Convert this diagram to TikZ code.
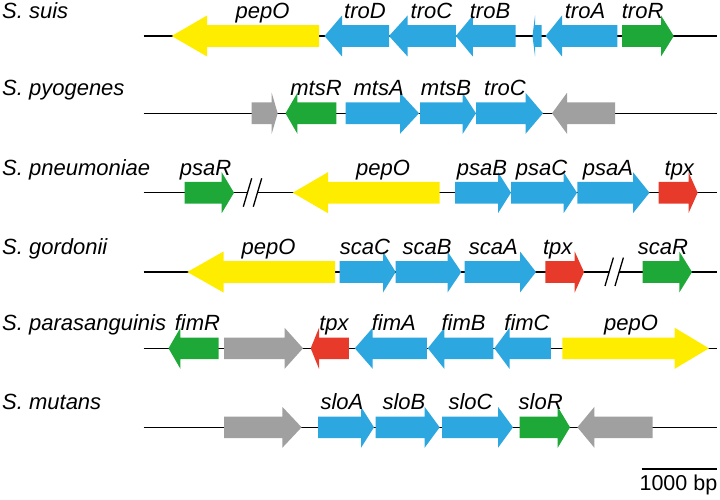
\documentclass[tikz,border=0pt]{standalone}
\usepackage{fontspec}
\setmainfont{Liberation Sans}
\definecolor{gyellow}{RGB}{255,237,0}
\definecolor{gblue}{RGB}{45,167,224}
\definecolor{ggreen}{RGB}{30,168,56}
\definecolor{gred}{RGB}{232,58,42}
\definecolor{ggrey}{RGB}{160,160,160}
% tail, head base, tip, y, colour
\newcommand\genearrow[5]{%
  \fill[#5] (#1,#4-10.8) -- (#2,#4-10.8) -- (#2,#4-20.5) -- (#3,#4) -- (#2,#4+20.5) -- (#2,#4+10.8) -- (#1,#4+10.8) -- cycle;}
% break mark: x of first slash bottom, y of line
\newcommand\breakmark[2]{%
  \fill[white] (#1,#2+14) -- (#1+10,#2+14) -- (#1+18.4,#2-14.4) -- (#1+8.4,#2-14.4) -- cycle;
  \draw[slash] (#1,#2+14) -- (#1+8.4,#2-14.4);
  \draw[slash] (#1+10,#2+14) -- (#1+18.4,#2-14.4);}
\tikzset{
  backbone/.style={line width=1.4pt, black},
  slash/.style={line width=1.3pt, black},
  lab/.style={anchor=base, inner sep=0pt, font=\fontsize{22}{26}\selectfont\itshape},
  species/.style={anchor=base west, inner sep=0pt, font=\fontsize{22}{26}\selectfont\itshape},
}
\begin{document}
\begin{tikzpicture}[x=1pt, y=-1pt]
\useasboundingbox (0,0) rectangle (720,500);

% ---------- Row 1: S. suis ----------
\draw[backbone] (143.7,36) -- (717,36);
\node[species] (sp1) at (2,18.5) {S. suis};
\genearrow{319}{207}{171.7}{36}{gyellow}
\genearrow{389}{342}{324.5}{36}{gblue}
\genearrow{455.8}{407.6}{389}{36}{gblue}
\genearrow{515.5}{472.8}{455.8}{36}{gblue}
\genearrow{541.6}{535}{532.5}{36}{gblue}
\genearrow{617.4}{562}{545.5}{36}{gblue}
\genearrow{622}{661}{673.8}{36}{ggreen}
\node[lab] (r1pepO) at (262.5,18.5) {pepO};
\node[lab] (r1troD) at (365,18.5) {troD};
\node[lab] (r1troC) at (431.5,18.5) {troC};
\node[lab] (r1troB) at (490,18.5) {troB};
\node[lab] (r1troA) at (585,18.5) {troA};
\node[lab] (r1troR) at (642.6,18.5) {troR};

% ---------- Row 2: S. pyogenes ----------
\draw[backbone] (143.7,113.3) -- (717,113.3);
\node[species] (sp2) at (2,95.8) {S. pyogenes};
\genearrow{251.5}{271.7}{277.7}{113.3}{ggrey}
\genearrow{336.4}{297.4}{285.5}{113.3}{ggreen}
\genearrow{345.6}{400}{419}{113.3}{gblue}
\genearrow{420}{462.7}{476}{113.3}{gblue}
\genearrow{476}{525.6}{543}{113.3}{gblue}
\genearrow{615}{567}{552}{113.3}{ggrey}
\node[lab] (r2mtsR) at (316,95.8) {mtsR};
\node[lab] (r2mtsA) at (378.7,95.8) {mtsA};
\node[lab] (r2mtsB) at (446,95.8) {mtsB};
\node[lab] (r2troC) at (505,95.8) {troC};

% ---------- Row 3: S. pneumoniae ----------
\draw[backbone] (143.7,192.7) -- (717,192.7);
\node[species] (sp3) at (2,175.2) {S. pneumoniae};
\genearrow{184.5}{221.7}{234}{192.7}{ggreen}
\breakmark{243.3}{192.7}
\genearrow{439.7}{328}{292.8}{192.7}{gyellow}
\genearrow{455}{498}{511}{192.7}{gblue}
\genearrow{511}{563.6}{577}{192.7}{gblue}
\genearrow{577.4}{633}{649.5}{192.7}{gblue}
\genearrow{658.7}{688.5}{697.7}{192.7}{gred}
\node[lab] (r3psaR) at (205.6,175.2) {psaR};
\node[lab] (r3pepO) at (383,175.2) {pepO};
\node[lab] (r3psaB) at (482,175.2) {psaB};
\node[lab] (r3psaC) at (541.6,175.2) {psaC};
\node[lab] (r3psaA) at (608,175.2) {psaA};
\node[lab] (r3tpx) at (679.3,175.2) {tpx};

% ---------- Row 4: S. gordonii ----------
\draw[backbone] (143.7,272) -- (717,272);
\node[species] (sp4) at (2,254.5) {S. gordonii};
\genearrow{335}{223.5}{187.3}{272}{gyellow}
\genearrow{339.7}{383}{395.7}{272}{gblue}
\genearrow{395.7}{447.5}{461.3}{272}{gblue}
\genearrow{464.5}{520}{536}{272}{gblue}
\genearrow{545.3}{574.7}{584}{272}{gred}
\breakmark{605}{272}
\genearrow{642.6}{679.3}{692}{272}{ggreen}
\node[lab] (r4pepO) at (268.5,254.5) {pepO};
\node[lab] (r4scaC) at (365,254.5) {scaC};
\node[lab] (r4scaB) at (427,254.5) {scaB};
\node[lab] (r4scaA) at (493.4,254.5) {scaA};
\node[lab] (r4tpx) at (557.7,254.5) {tpx};
\node[lab] (r4scaR) at (663,254.5) {scaR};

% ---------- Row 5: S. parasanguinis ----------
\draw[backbone] (143.7,348.3) -- (717,348.3);
\node[species] (sp5) at (2,330.8) {S. parasanguinis};
\genearrow{218.5}{180.4}{168.5}{348.3}{ggreen}
\genearrow{224}{284.6}{303}{348.3}{ggrey}
\genearrow{348.8}{319}{310.7}{348.3}{gred}
\genearrow{426.9}{372.7}{354.8}{348.3}{gblue}
\genearrow{493.4}{444.3}{427.8}{348.3}{gblue}
\genearrow{550.8}{509.5}{494.3}{348.3}{gblue}
\genearrow{562.3}{674.7}{709}{348.3}{gyellow}
\node[lab] (r5fimR) at (197.4,330.8) {fimR};
\node[lab] (r5tpx) at (334,330.8) {tpx};
\node[lab] (r5fimA) at (393.8,330.8) {fimA};
\node[lab] (r5fimB) at (463.6,330.8) {fimB};
\node[lab] (r5fimC) at (527,330.8) {fimC};
\node[lab] (r5pepO) at (631,330.8) {pepO};

% ---------- Row 6: S. mutans ----------
\draw[backbone] (143.7,427.3) -- (717,427.3);
\node[species] (sp6) at (2,409.8) {S. mutans};
\genearrow{224}{282.3}{301.6}{427.3}{ggrey}
\genearrow{318}{361}{374}{427.3}{gblue}
\genearrow{375.5}{424.6}{439.7}{427.3}{gblue}
\genearrow{442}{498}{513}{427.3}{gblue}
\genearrow{519.6}{557.7}{570}{427.3}{ggreen}
\genearrow{652.7}{594.4}{577.4}{427.3}{ggrey}
\node[lab] (r6sloA) at (342,409.8) {sloA};
\node[lab] (r6sloB) at (404,409.8) {sloB};
\node[lab] (r6sloC) at (470.5,409.8) {sloC};
\node[lab] (r6sloR) at (540.7,409.8) {sloR};

% ---------- scale bar ----------
\coordinate (sbL) at (641.7,469);
\coordinate (sbR) at (717,469);
\draw[backbone] (sbL) -- (sbR);
\node[anchor=base east, inner sep=0pt, font=\fontsize{21.5}{25}\selectfont] (sbtext) at (717.5,490) {1000 bp};
\end{tikzpicture}
\end{document}
